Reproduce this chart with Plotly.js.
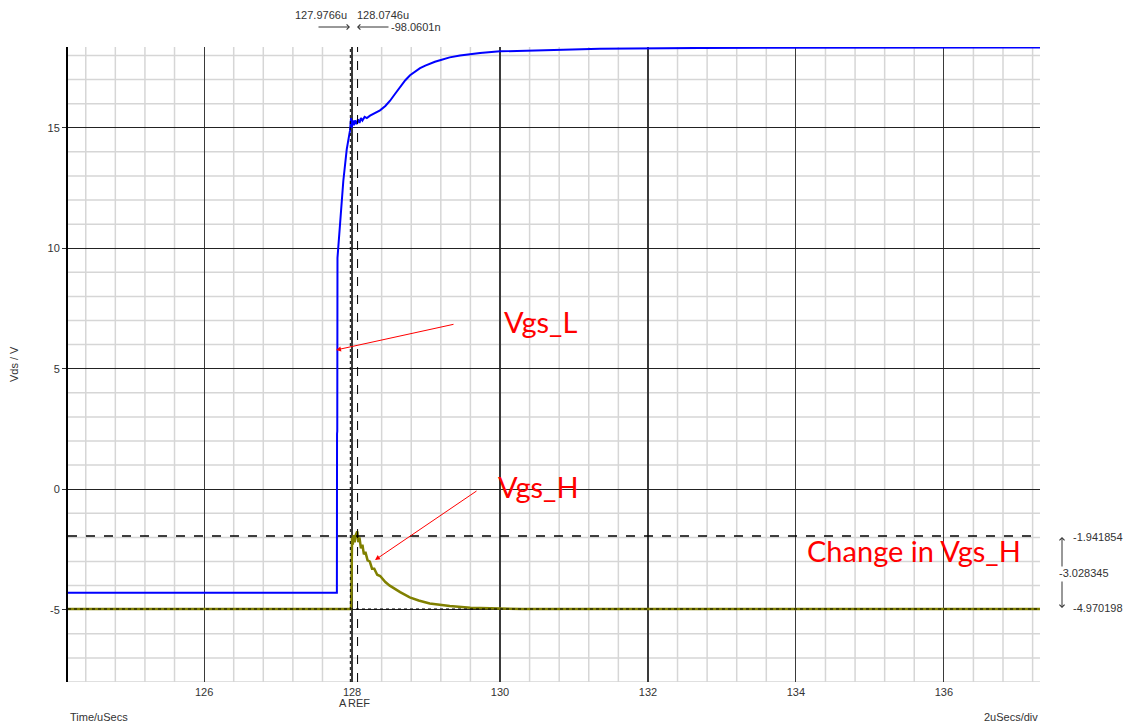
<!DOCTYPE html>
<html>
<head>
<meta charset="utf-8">
<script src="https://cdn.plot.ly/plotly-3.0.1.min.js"></script>
<style>html,body{margin:0;padding:0;background:#fff;}</style>
</head>
<body>
<div id="chart" style="width:1128px;height:725px;"></div>
<script>
// ---- data (time in uSecs, voltage in V) ----
const vgsL_t = [124.16, 127.795, 127.797, 127.800, 127.803, 127.838, 127.882, 127.928, 127.973, 127.986, 127.995, 128.010, 128.025, 128.040, 128.060, 128.080, 128.100, 128.120, 128.140, 128.170, 128.200, 128.243, 128.300, 128.378, 128.450, 128.514, 128.580, 128.649, 128.720, 128.784, 128.850, 128.919, 128.990, 129.050, 129.120, 129.189, 129.320, 129.459, 129.600, 129.730, 130.000, 130.600, 131.350, 132.700, 134.500, 137.300];
const vgsL_v = [-4.30, -4.30, 2.30, 2.40, 9.60, 10.90, 12.80, 14.10, 14.90, 15.40, 15.00, 15.30, 15.10, 15.30, 15.15, 15.35, 15.20, 15.40, 15.30, 15.45, 15.40, 15.50, 15.60, 15.72, 15.90, 16.12, 16.40, 16.70, 16.97, 17.18, 17.34, 17.47, 17.58, 17.66, 17.74, 17.80, 17.92, 18.00, 18.06, 18.10, 18.17, 18.23, 18.28, 18.31, 18.32, 18.33];

const vgsH_t = [124.16, 127.985, 127.990, 127.995, 128.000, 128.010, 128.020, 128.035, 128.050, 128.070, 128.085, 128.100, 128.120, 128.140, 128.160, 128.180, 128.210, 128.240, 128.270, 128.300, 128.340, 128.380, 128.450, 128.510, 128.580, 128.650, 128.780, 128.900, 129.050, 129.320, 129.600, 129.900, 130.300, 137.300];
const vgsH_v = [-4.97, -4.97, -4.50, -2.40, -2.00, -2.30, -1.90, -2.20, -1.90, -1.75, -2.20, -2.00, -2.45, -2.30, -2.70, -2.60, -2.95, -3.00, -3.30, -3.30, -3.55, -3.60, -3.85, -4.00, -4.15, -4.27, -4.49, -4.62, -4.74, -4.85, -4.92, -4.95, -4.97, -4.97];

const cursorX = [127.9766, 128.0746];
const cursorY = [-1.941854, -4.970198];
const cursorXLabels = ['127.9766u', '128.0746u', '-98.0601n'];
const cursorYLabels = ['-1.941854', '-3.028345', '-4.970198'];

const yTickVals = [-5, 0, 5, 10, 15];
const yTickText = ['-5', '0', '5', '10', '15'];

// ---- grid helper (minor grid positions) ----
function steps(a, b, d, skip) {
  const out = [];
  for (let k = Math.ceil(a / d - 1e-9); k * d <= b + 1e-9; k++) {
    const v = +(k * d).toFixed(6);
    if (Math.abs(v / skip - Math.round(v / skip)) > 1e-6) out.push(v);
  }
  return out;
}
const xRange = [124.16, 137.3], yRange = [-8.0, 18.35];

// ---- layout helpers (pixel -> paper) ----
const L = 68, T = 47, W = 972, H = 635;
const P = x => (x - L) / W;
const Q = y => (T + H - y) / H;

const txtFont = {family: 'Liberation Sans, Arial, sans-serif', size: 11, color: '#333'};
const redFont = {family: 'Lato, sans-serif', size: 29, color: '#ff0000'};

const traces = [
  {x: vgsH_t, y: vgsH_v, type: 'scatter', mode: 'lines', line: {color: '#808000', width: 2.5}, hoverinfo: 'skip'},
  {x: vgsL_t, y: vgsL_v, type: 'scatter', mode: 'lines', line: {color: '#0000ff', width: 2}, hoverinfo: 'skip'}
];

const minorStyle = {color: '#d6d6d6', width: 1.5};
const shapes = [];
steps(xRange[0], xRange[1], 0.4, 2).forEach(v => shapes.push({type: 'line', layer: 'below', xref: 'x', yref: 'paper', x0: v, x1: v, y0: 0, y1: 1, line: minorStyle}));
steps(yRange[0], yRange[1], 1, 5).forEach(v => shapes.push({type: 'line', layer: 'below', xref: 'paper', yref: 'y', x0: 0, x1: 1, y0: v, y1: v, line: minorStyle}));
shapes.push(
  {type: 'line', xref: 'x', yref: 'paper', x0: cursorX[0], x1: cursorX[0], y0: 0, y1: 1, line: {color: '#000', width: 1, dash: 'dot'}},
  {type: 'line', xref: 'x', yref: 'paper', x0: cursorX[1], x1: cursorX[1], y0: 0, y1: 1, line: {color: '#000', width: 1, dash: 'dash'}},
  {type: 'line', xref: 'paper', yref: 'y', x0: 0, x1: 1, y0: cursorY[0], y1: cursorY[0], line: {color: '#000', width: 1.5, dash: 'dash'}},
  {type: 'line', xref: 'paper', yref: 'y', x0: 0, x1: 1, y0: cursorY[1], y1: cursorY[1], line: {color: '#000', width: 1, dash: 'dot'}}
);

function txt(text, x, y, xanchor, font, extra) {
  return Object.assign({text: text, xref: 'paper', yref: 'paper', x: P(x), y: Q(y), xanchor: xanchor, yanchor: 'middle', showarrow: false, font: font || txtFont}, extra || {});
}
function arr(hx, hy, ax, ay, color, head, w) {
  return {text: '', xref: 'paper', yref: 'paper', x: P(hx), y: Q(hy), ax: ax, ay: ay, showarrow: true,
          arrowhead: head, arrowsize: 1, arrowwidth: w || 1, arrowcolor: color, standoff: 0, startstandoff: 0};
}

const annotations = [
  txt(cursorXLabels[0], 293, 15, 'left'),
  txt(cursorXLabels[1], 355, 15, 'left'),
  txt(cursorXLabels[2], 389, 27, 'left'),
  arr(350, 27, -33, 0, '#333', 4),
  arr(357, 27, 33, 0, '#333', 4),
  txt(cursorYLabels[0], 1071, 537, 'left'),
  txt(cursorYLabels[1], 1057, 573, 'left'),
  txt(cursorYLabels[2], 1071, 608, 'left'),
  arr(1062, 537, 0, 31, '#333', 4),
  arr(1062, 608, 0, -28, '#333', 4),
  txt('A', 343, 703, 'center'),
  txt('REF', 359, 703, 'center'),
  txt('Time/uSecs', 68, 717, 'left'),
  txt('2uSecs/div', 1040, 717, 'right'),
  txt('Vds / V', 14, 364, 'center', txtFont, {textangle: -90}),
  txt('Vgs_L', 502, 321, 'left', redFont),
  txt('Vgs_H', 496, 486, 'left', redFont),
  txt('Change in Vgs_H', 805, 550, 'left', redFont),
  arr(336, 350, 119, -26, '#ff0000', 2),
  arr(375, 560, 103, -70, '#ff0000', 2)
];

const layout = {
  width: 1128, height: 725,
  margin: {l: L, r: 1128 - L - W, t: T, b: 725 - T - H, pad: 0},
  paper_bgcolor: '#fff', plot_bgcolor: '#fff',
  showlegend: false,
  font: txtFont,
  xaxis: {
    range: xRange, tickmode: 'linear', tick0: 0, dtick: 2,
    showgrid: true, gridcolor: '#3a3a3a', gridwidth: 1.2,
    zeroline: false, showline: false, ticks: '', ticklabelstandoff: 2,
    tickfont: txtFont
  },
  yaxis: {
    range: yRange, tickmode: 'array', tickvals: yTickVals, ticktext: yTickText,
    showgrid: true, gridcolor: '#222', gridwidth: 1.2,
    zeroline: false, showline: true, linecolor: '#000', linewidth: 2,
    ticks: 'outside', ticklen: 4, tickcolor: '#333', tickwidth: 1,
    tickfont: txtFont
  },
  shapes: shapes,
  annotations: annotations
};

Plotly.newPlot('chart', traces, layout, {staticPlot: true, displayModeBar: false});
</script>
</body>
</html>
